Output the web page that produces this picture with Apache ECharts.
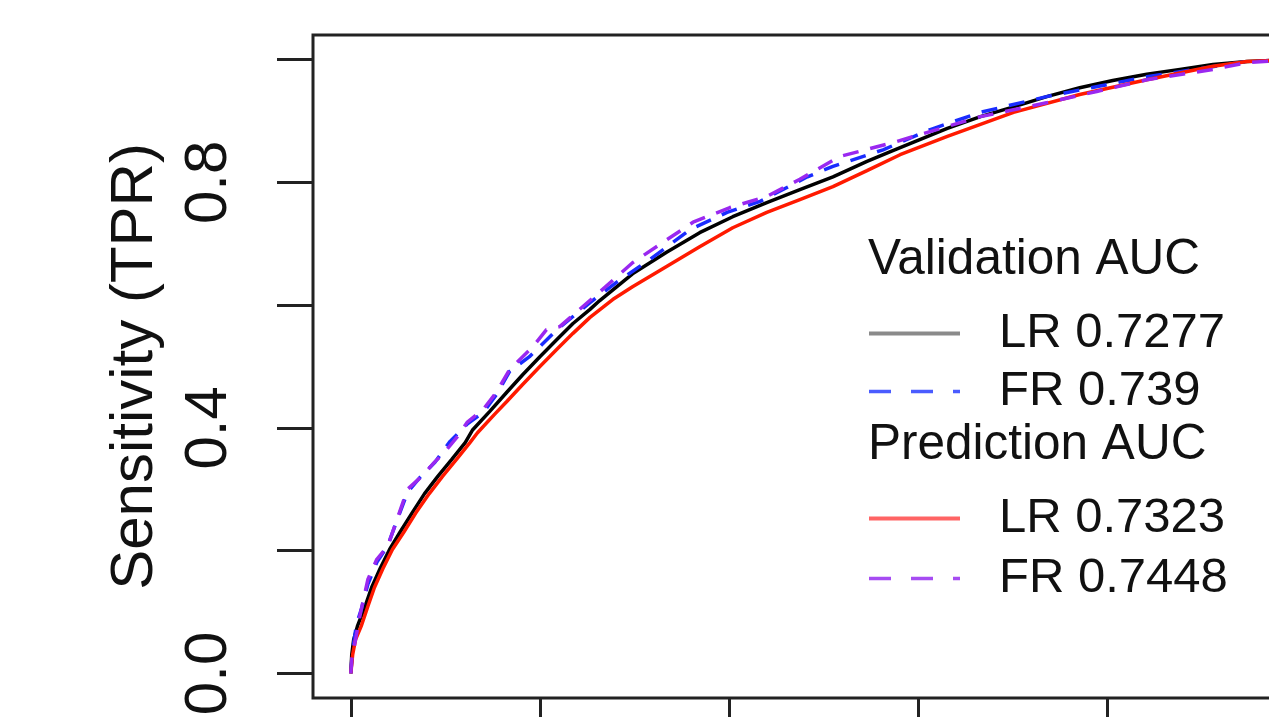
<!DOCTYPE html>
<html>
<head>
<meta charset="utf-8">
<script src="https://cdn.jsdelivr.net/npm/echarts@6/dist/echarts.min.js"></script>
<style>
html,body{margin:0;padding:0;background:#fff;overflow:hidden;}
#chart{position:absolute;left:0;top:0;width:1400px;height:780px;}
</style>
</head>
<body>
<div id="chart"></div>
<script>
// ---- data ----
const seriesNames = ['LR 0.7277', 'FR 0.739', 'LR 0.7323', 'FR 0.7448'];
const headerTitles = ['Validation AUC', 'Prediction AUC'];
const yAxisTitle = 'Sensitivity (TPR)';
const tickValues = [0, 0.2, 0.4, 0.6, 0.8, 1.0];
const yLabelValues = [0, 0.4, 0.8];
const yLabelTexts = ['0.0', '0.4', '0.8'];

// Validation LR (black)
const fprLRval = [0, 0.001, 0.003, 0.007, 0.015, 0.022, 0.031, 0.041, 0.052, 0.065, 0.078, 0.092, 0.107, 0.121, 0.129, 0.147, 0.165, 0.182, 0.200, 0.218, 0.235, 0.253, 0.263, 0.298, 0.334, 0.369, 0.404, 0.440, 0.475, 0.510, 0.546, 0.574, 0.631, 0.666, 0.701, 0.737, 0.771, 0.806, 0.842, 0.877, 0.912, 0.948, 1.0];
const tprLRval = [0, 0.031, 0.055, 0.077, 0.109, 0.140, 0.171, 0.202, 0.230, 0.262, 0.293, 0.321, 0.349, 0.376, 0.397, 0.427, 0.458, 0.487, 0.516, 0.544, 0.570, 0.593, 0.607, 0.651, 0.686, 0.718, 0.744, 0.767, 0.788, 0.809, 0.834, 0.852, 0.888, 0.907, 0.923, 0.940, 0.954, 0.966, 0.976, 0.984, 0.992, 0.997, 1.0];

// Validation FR (blue, dashed)
const fprFRval = [0, 0.002, 0.006, 0.011, 0.018, 0.0275, 0.039, 0.050, 0.060, 0.073, 0.089, 0.105, 0.123, 0.140, 0.154, 0.168, 0.189, 0.218, 0.253, 0.281, 0.316, 0.359, 0.398, 0.433, 0.483, 0.510, 0.563, 0.613, 0.666, 0.737, 0.842, 0.948, 1.0];
const tprFRval = [0, 0.039, 0.080, 0.104, 0.145, 0.181, 0.208, 0.254, 0.295, 0.319, 0.344, 0.378, 0.406, 0.425, 0.454, 0.492, 0.516, 0.560, 0.604, 0.637, 0.674, 0.723, 0.751, 0.769, 0.809, 0.826, 0.853, 0.886, 0.914, 0.940, 0.972, 0.997, 1.0];

// Prediction LR (red)
const fprLRpred = [0, 0.002, 0.005, 0.011, 0.018, 0.025, 0.034, 0.044, 0.056, 0.069, 0.083, 0.097, 0.112, 0.126, 0.134, 0.152, 0.165, 0.182, 0.200, 0.218, 0.235, 0.253, 0.277, 0.298, 0.334, 0.369, 0.404, 0.440, 0.475, 0.510, 0.546, 0.581, 0.631, 0.701, 0.771, 0.842, 0.912, 0.948, 1.0];
const tprLRpred = [0, 0.031, 0.055, 0.077, 0.109, 0.140, 0.171, 0.202, 0.230, 0.262, 0.293, 0.321, 0.349, 0.376, 0.392, 0.422, 0.443, 0.471, 0.500, 0.528, 0.554, 0.580, 0.609, 0.630, 0.663, 0.695, 0.726, 0.751, 0.772, 0.793, 0.819, 0.845, 0.875, 0.914, 0.943, 0.967, 0.989, 0.997, 1.0];

// Prediction FR (purple, dashed)
const fprFRpred = [0, 0.001, 0.004, 0.0095, 0.018, 0.0275, 0.039, 0.050, 0.060, 0.075, 0.089, 0.099, 0.113, 0.123, 0.140, 0.154, 0.168, 0.193, 0.207, 0.221, 0.242, 0.263, 0.298, 0.330, 0.362, 0.401, 0.440, 0.475, 0.517, 0.574, 0.666, 0.737, 0.789, 0.842, 0.912, 0.948, 1.0];
const tprFRpred = [0, 0.023, 0.047, 0.093, 0.153, 0.186, 0.207, 0.256, 0.300, 0.321, 0.345, 0.360, 0.386, 0.409, 0.430, 0.458, 0.495, 0.533, 0.560, 0.565, 0.593, 0.621, 0.669, 0.702, 0.735, 0.759, 0.777, 0.805, 0.842, 0.865, 0.907, 0.930, 0.948, 0.967, 0.984, 0.995, 1.0];

const zip = (xs, ys) => xs.map((x, i) => [x, ys[i]]);
const FONT = 'Liberation Sans, Arial, sans-serif';
const TXT = '#111';

const chart = echarts.init(document.getElementById('chart'), null, {renderer: 'canvas'});

const lineSeries = (name, data, color, dashed, z) => ({
  name: name,
  type: 'line',
  data: data,
  symbol: 'none',
  smooth: false,
  z: z,
  lineStyle: {color: color, width: 3.5, type: dashed ? [16, 12] : 'solid'},
  animation: false
});

chart.setOption({
  backgroundColor: '#fff',
  animation: false,
  grid: {
    left: 313, top: 35, width: 1021, height: 663,
    show: true, borderColor: '#222', borderWidth: 3, backgroundColor: 'transparent'
  },
  title: [
    {text: headerTitles[0], left: 868, top: 235, padding: 0,
     textStyle: {fontFamily: FONT, fontSize: 49.5, fontWeight: 'normal', color: TXT}},
    {text: headerTitles[1], left: 868, top: 420, padding: 0,
     textStyle: {fontFamily: FONT, fontSize: 49.5, fontWeight: 'normal', color: TXT}}
  ],
  legend: [
    {
      orient: 'vertical', left: 867, top: 309, padding: 0,
      itemWidth: 91, itemHeight: 20, itemGap: 9, selectedMode: false,
      itemStyle: {opacity: 0},
      textStyle: {fontFamily: FONT, fontSize: 49, color: TXT, padding: [0, 0, 0, 34]},
      data: [
        {name: seriesNames[0], lineStyle: {color: '#8a8a8a', width: 4, type: 'solid'}},
        {name: seriesNames[1], lineStyle: {color: '#4a5cff', width: 3.5, type: [22, 20]}}
      ]
    },
    {
      orient: 'vertical', left: 867, top: 494, padding: 0,
      itemWidth: 91, itemHeight: 20, itemGap: 11, selectedMode: false,
      itemStyle: {opacity: 0},
      textStyle: {fontFamily: FONT, fontSize: 49, color: TXT, padding: [0, 0, 0, 34]},
      data: [
        {name: seriesNames[2], lineStyle: {color: '#ff6464', width: 4, type: 'solid'}},
        {name: seriesNames[3], lineStyle: {color: '#a64cf2', width: 3.5, type: [22, 20]}}
      ]
    }
  ],
  xAxis: {
    type: 'value', min: -0.04, max: 1.04,
    axisLine: {show: false, onZero: false},
    splitLine: {show: false},
    axisTick: {show: true, inside: false, customValues: tickValues, length: 36, lineStyle: {color: '#222', width: 3}},
    axisLabel: {show: false}
  },
  yAxis: {
    type: 'value', min: -0.04, max: 1.04,
    name: yAxisTitle, nameLocation: 'middle', nameRotate: 90, nameGap: 148,
    nameTextStyle: {fontFamily: FONT, fontSize: 60, color: TXT},
    axisLine: {show: false, onZero: false},
    splitLine: {show: false},
    axisTick: {show: true, inside: false, customValues: tickValues, length: 36, lineStyle: {color: '#222', width: 3}},
    axisLabel: {
      show: true, customValues: yLabelValues, rotate: 90, margin: 74,
      fontFamily: FONT, fontSize: 60, color: TXT,
      formatter: v => {
        const i = yLabelValues.findIndex(t => Math.abs(t - v) < 1e-9);
        return i >= 0 ? yLabelTexts[i] : '';
      }
    }
  },
  series: [
    lineSeries(seriesNames[0], zip(fprLRval, tprLRval), '#000000', false, 2),
    lineSeries(seriesNames[1], zip(fprFRval, tprFRval), '#1a2cff', true, 3),
    lineSeries(seriesNames[2], zip(fprLRpred, tprLRpred), '#ff1a00', false, 4),
    lineSeries(seriesNames[3], zip(fprFRpred, tprFRpred), '#9a28f0', true, 5)
  ]
});
</script>
</body>
</html>
